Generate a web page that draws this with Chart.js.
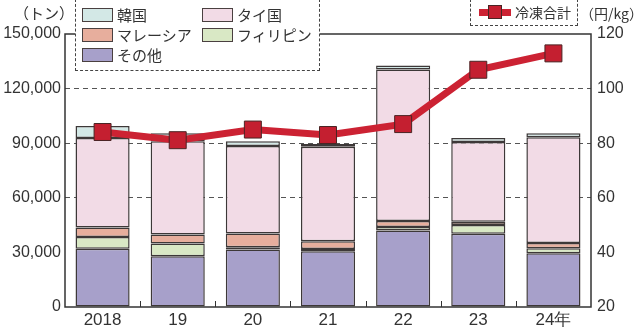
<!DOCTYPE html>
<html lang="ja">
<head>
<meta charset="utf-8">
<title>冷凍えび輸入量</title>
<script src="https://cdn.jsdelivr.net/npm/chart.js@4/dist/chart.umd.min.js"></script>
<style>
    body { margin: 0; background: #fff; }
    #wrap { position: relative; width: 640px; height: 329px; overflow: hidden; font-family: "Noto Sans CJK JP", sans-serif; color: #333; }
    #chart { position: absolute; left: 0; top: 0; }
    .unit { position: absolute; top: 3px; font-size: 15px; line-height: 20px; white-space: nowrap; }
    .legend-box { position: absolute; background: #fff; border: 1.5px dashed #444; box-sizing: border-box; }
    .legend-item { position: absolute; font-size: 15px; line-height: 16px; white-space: nowrap; }
    .swatch { position: absolute; width: 31px; height: 14px; border: 1.5px solid #4a4040; box-sizing: border-box; }
</style>
</head>
<body>
<div id="wrap">
    <canvas id="chart" width="640" height="329"></canvas>
    <div class="unit" style="left:14px;">（トン）</div>
    <div class="unit" style="left:580px; font-size:14px;">（円/kg）</div>
    <div class="legend-box" id="barLegend" style="left:75px; top:-1px; width:245px; height:72px;"></div>
    <div class="legend-box" id="lineLegend" style="left:470px; top:-1px; width:108px; height:27px;"></div>
</div>
<script>
const years = ["2018", "19", "20", "21", "22", "23", "24年"];

// 輸入量（トン）
const other = [32000, 27900, 31600, 30700, 42000, 40200, 29600];
const philippines = [6400, 7000, 1200, 1200, 1900, 4900, 2700];
const malaysia = [5300, 4900, 7600, 4200, 3300, 1700, 2800];
const thailand = [49100, 51300, 48100, 51900, 83300, 43800, 58200];
const korea = [6700, 4400, 2600, 1600, 2200, 2200, 2200];

// 冷凍合計 単価（円/kg）
const frozenPrice = [84.1, 81.1, 85.0, 83.0, 87.0, 106.9, 112.9];

const leftTicks = [0, 30000, 60000, 90000, 120000, 150000];
const rightTicks = [20, 40, 60, 80, 100, 120];

document.addEventListener("DOMContentLoaded", function () {
    const edge = "#3d3838";

    const barSeries = [
        { label: "その他", data: other, color: "#a7a0ca" },
        { label: "フィリピン", data: philippines, color: "#d9e8c5" },
        { label: "マレーシア", data: malaysia, color: "#e7ae9d" },
        { label: "タイ国", data: thailand, color: "#f2dbe6" },
        { label: "韓国", data: korea, color: "#d3e8e6" }
    ];

    // legend boxes drawn as html on top of the frame
    const legendSlots = {
        "韓国": [0, 0], "タイ国": [1, 0],
        "マレーシア": [0, 1], "フィリピン": [1, 1],
        "その他": [0, 2]
    };
    const barLegend = document.getElementById("barLegend");
    barSeries.forEach(s => {
        const slot = legendSlots[s.label];
        const left = 6 + slot[0] * 120;
        const top = 8 + slot[1] * 20;
        const sw = document.createElement("div");
        sw.className = "swatch";
        sw.style.left = left + "px";
        sw.style.top = top + "px";
        sw.style.background = s.color;
        barLegend.appendChild(sw);
        const txt = document.createElement("div");
        txt.className = "legend-item";
        txt.style.left = (left + 35) + "px";
        txt.style.top = (top - 1) + "px";
        txt.textContent = s.label;
        barLegend.appendChild(txt);
    });

    const lineLegend = document.getElementById("lineLegend");
    lineLegend.innerHTML = `
        <div style="position:absolute; left:8px; top:9px; width:32px; height:7px; background:#cc2233;"></div>
        <div style="position:absolute; left:17px; top:5px; width:14px; height:14px; background:#c41f30; border:1px solid #4a2424; box-sizing:border-box;"></div>
        <div class="legend-item" style="left:44px; top:4px; font-size:14px;">冷凍合計</div>
    `;

    const datasets = barSeries.map(s => ({
        type: "bar",
        label: s.label,
        data: s.data,
        backgroundColor: s.color,
        borderColor: edge,
        borderWidth: 1.5,
        borderSkipped: false,
        yAxisID: "y",
        order: 2
    }));

    datasets.push({
        type: "line",
        label: "冷凍合計",
        data: frozenPrice,
        borderColor: "#cc2233",
        borderWidth: 7,
        tension: 0,
        pointStyle: "rect",
        pointRadius: 12,
        pointBackgroundColor: "#c41f30",
        pointBorderColor: "#4a2424",
        pointBorderWidth: 1,
        yAxisID: "y2",
        order: 1
    });

    const framePlugin = {
        id: "frame",
        afterDraw(chart) {
            const { ctx, chartArea: a, scales: { x } } = chart;
            ctx.save();
            ctx.strokeStyle = "#333";
            ctx.lineWidth = 1.5;
            ctx.strokeRect(a.left, a.top, a.right - a.left, a.bottom - a.top);
            // short ticks between categories
            ctx.lineWidth = 1;
            for (let i = 1; i < years.length; i++) {
                const px = Math.round((x.getPixelForValue(i - 1) + x.getPixelForValue(i)) / 2) + 0.5;
                ctx.beginPath();
                ctx.moveTo(px, a.bottom);
                ctx.lineTo(px, a.bottom - 6);
                ctx.stroke();
            }
            ctx.restore();
        }
    };

    const tickFont = { family: "'Liberation Sans', Arial, sans-serif", size: 16 };

    new Chart(document.getElementById("chart"), {
        data: { labels: years, datasets: datasets },
        options: {
            responsive: false,
            animation: false,
            layout: { padding: { top: 34, left: 0, right: 0, bottom: 0 } },
            plugins: {
                legend: { display: false },
                tooltip: { enabled: false }
            },
            scales: {
                x: {
                    stacked: true,
                    offset: true,
                    barPercentage: 1,
                    categoryPercentage: 0.645,
                    grid: { display: false, drawTicks: false },
                    border: { display: false },
                    ticks: { color: "#333", font: { ...tickFont, size: 17 }, padding: 3, maxRotation: 0 },
                    afterFit: s => { s.height = 22; }
                },
                y: {
                    stacked: true,
                    position: "left",
                    min: leftTicks[0],
                    max: leftTicks[leftTicks.length - 1],
                    afterBuildTicks: s => { s.ticks = leftTicks.map(v => ({ value: v })); },
                    grid: {
                        drawTicks: false,
                        color: c => (c.tick && c.tick.value > 30000 && c.tick.value < 150000) ? "#555" : "transparent",
                        lineWidth: 1
                    },
                    border: { display: false, dash: [5, 4] },
                    ticks: {
                        color: "#333",
                        font: tickFont,
                        padding: 4,
                        callback: v => v.toLocaleString("en-US")
                    },
                    afterFit: s => { s.width = 65; }
                },
                y2: {
                    position: "right",
                    min: rightTicks[0],
                    max: rightTicks[rightTicks.length - 1],
                    afterBuildTicks: s => { s.ticks = rightTicks.map(v => ({ value: v })); },
                    grid: { display: false, drawTicks: false },
                    border: { display: false },
                    ticks: { color: "#333", font: tickFont, padding: 6 },
                    afterFit: s => { s.width = 49; }
                }
            }
        },
        plugins: [framePlugin]
    });
});
</script>
</body>
</html>
